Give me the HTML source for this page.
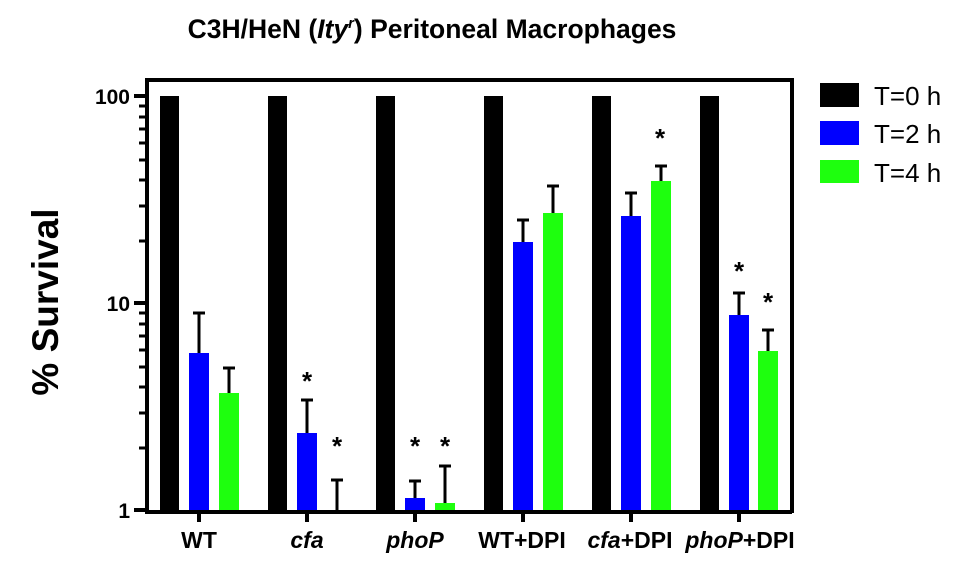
<!DOCTYPE html>
<html><head><style>body{margin:0;background:#fff}svg{display:block;font-family:"Liberation Sans",Arial,sans-serif}</style></head><body>
<svg width="965" height="565" viewBox="0 0 965 565" xmlns="http://www.w3.org/2000/svg">
<text x="432" y="38" text-anchor="middle" font-size="26.5" font-weight="bold">C3H/HeN (<tspan font-style="italic">Ity</tspan><tspan font-style="italic" font-size="15" dy="-10">r</tspan><tspan dy="10">) Peritoneal Macrophages</tspan></text>
<text transform="translate(58,302) rotate(-90)" text-anchor="middle" font-size="37" font-weight="bold">% Survival</text>
<g fill="#000">
<rect x="160" y="96" width="19" height="414"/><rect x="268" y="96" width="19" height="414"/><rect x="376" y="96" width="19" height="414"/><rect x="484" y="96" width="19" height="414"/><rect x="592" y="96" width="19" height="414"/><rect x="700" y="96" width="19" height="414"/>
</g>
<g fill="#0000ff">
<rect x="189" y="353" width="20" height="157"/><rect x="297" y="433" width="20" height="77"/><rect x="405" y="498" width="20" height="12"/><rect x="513" y="242" width="20" height="268"/><rect x="621" y="216" width="20" height="294"/><rect x="729" y="315" width="20" height="195"/>
</g>
<g fill="#1eff0e">
<rect x="219" y="393" width="20" height="117"/><rect x="435" y="503" width="20" height="7"/><rect x="543" y="213" width="20" height="297"/><rect x="651" y="181" width="20" height="329"/><rect x="758" y="351" width="20" height="159"/>
</g>
<g stroke="#000" stroke-width="3" fill="none">
<path d="M199 353V313M193 313H205 M229 393V368M223 368H235 M307 433V400M301 400H313 M337 510V480M331 480H343 M415 498V481M409 481H421 M445 503V466M439 466H451 M523 242V220M517 220H529 M553 213V186M547 186H559 M631 216V193M625 193H637 M661 181V166M655 166H667 M739 315V293M733 293H745 M768 351V330M762 330H774"/>
</g>
<g font-size="26" font-weight="bold" text-anchor="middle">
<text x="307" y="390">*</text><text x="337" y="455">*</text><text x="415" y="455">*</text><text x="445" y="455">*</text><text x="660" y="147">*</text><text x="739" y="280">*</text><text x="768" y="311">*</text>
</g>
<g stroke="#000" stroke-width="4" fill="none">
<path d="M147 80H792V513 M147 78V512H792"/>
<path d="M134 96H147 M134 303H147 M134 510H147"/>
</g>
<g stroke="#000" stroke-width="3">
<path id="mt" d="M139 448H147M139 413H147M139 387H147M139 367H147M139 350H147M139 336H147M139 324H147M139 313H147"/>
<use href="#mt" transform="translate(0,-207)"/>
</g>
<g stroke="#000" stroke-width="4"><path d="M199 512V522M307 512V522M415 512V522M523 512V522M631 512V522M739 512V522"/></g>
<g font-size="21" font-weight="bold" text-anchor="end">
<text x="130" y="104">100</text><text x="130" y="311">10</text><text x="130" y="518">1</text>
</g>
<g font-size="23" font-weight="bold" text-anchor="middle">
<text x="199" y="548">WT</text><text x="307" y="548" font-style="italic">cfa</text><text x="415" y="548" font-style="italic">phoP</text><text x="522" y="548">WT+DPI</text><text x="630" y="548"><tspan font-style="italic">cfa</tspan>+DPI</text><text x="740" y="548"><tspan font-style="italic">phoP</tspan>+DPI</text>
</g>
<rect x="820" y="83" width="39" height="24" fill="#000"/>
<rect x="820" y="121" width="39" height="24" fill="#0000ff"/>
<rect x="820" y="160" width="39" height="23" fill="#1eff0e"/>
<g font-size="26"><text x="874" y="105">T=0 h</text><text x="874" y="143">T=2 h</text><text x="874" y="182">T=4 h</text></g>
</svg>
</body></html>
